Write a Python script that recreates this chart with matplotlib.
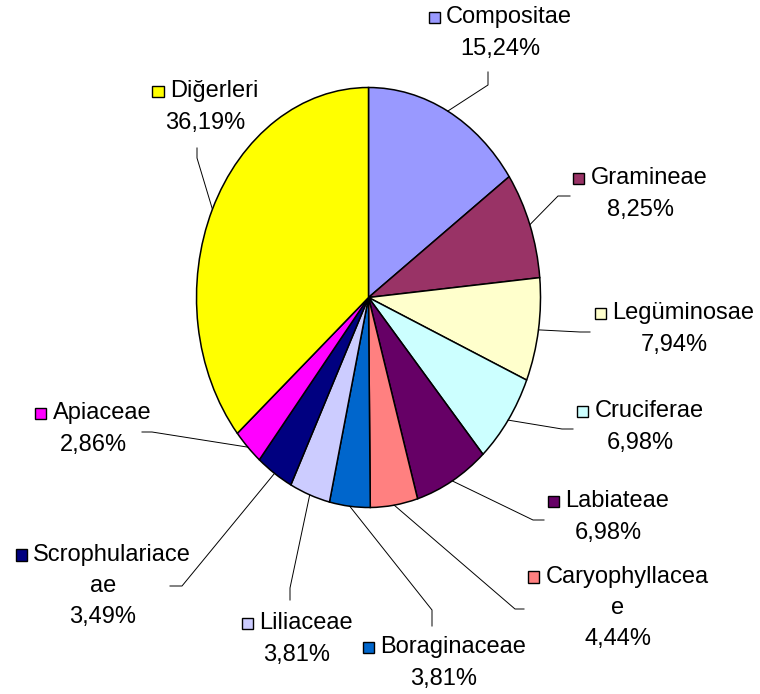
import matplotlib
matplotlib.use("Agg")
import matplotlib.pyplot as plt
import numpy as np
from matplotlib.patches import Rectangle
from matplotlib.offsetbox import TextArea, DrawingArea, HPacker, VPacker, AnnotationBbox

plt.rcParams['font.family'] = ['Liberation Sans', 'DejaVu Sans']

families = ['Compositae', 'Gramineae', 'Legüminosae', 'Cruciferae', 'Labiateae',
            'Caryophyllacea\ne', 'Boraginaceae', 'Liliaceae', 'Scrophulariace\nae',
            'Apiaceae', 'Diğerleri']
shares = [15.24, 8.25, 7.94, 6.98, 6.98, 4.44, 3.81, 3.81, 3.49, 2.86, 36.19]
colors = ['#9999FF', '#993366', '#FFFFCC', '#CCFFFF', '#660066', '#FF8080',
          '#0066CC', '#CCCCFF', '#000080', '#FF00FF', '#FFFF00']

# label block centres, leader elbows and leader ends (pixels, from top-left)
label_pos = [(500, 33), (640, 194), (674, 329), (640, 427), (608, 517), (618, 608),
             (444, 663), (297, 639), (103, 586), (93, 429), (205, 107)]
elbows = [(488, 85), (558, 196), (580, 332), (562, 429), (533, 520), (515, 609),
          (432, 610), (290, 588), (182, 586), (152, 432), (197, 158)]
ends = [(488, 72), (570, 196), (590, 332), (573, 429), (544, 520), (524, 609),
        (432, 626), (290, 600), (170, 586), (142, 432), (197, 148)]

W, H = 760, 694
fig = plt.figure(figsize=(W / 100, H / 100), dpi=100)

# the pie is stretched into an ellipse like the excel original
cx, cy, rx, ry = 368.5, 297.5, 172, 210
pax = fig.add_axes([(cx - rx) / W, (H - cy - ry) / H, 2 * rx / W, 2 * ry / H])
wedges, _ = pax.pie(shares, colors=colors, startangle=90, counterclock=False,
                    radius=1, wedgeprops=dict(edgecolor='black', linewidth=1.1))
pax.set_aspect('auto')
pax.set_xlim(-1, 1)
pax.set_ylim(-1, 1)
pax.axis('off')

ov = fig.add_axes([0, 0, 1, 1])
ov.set_xlim(0, W)
ov.set_ylim(H, 0)
ov.axis('off')

for i, w in enumerate(wedges):
    mid = np.deg2rad((w.theta1 + w.theta2) / 2)
    disp = pax.transData.transform((np.cos(mid), np.sin(mid)))
    sx, sy = ov.transData.inverted().transform(disp)
    ov.plot([sx, elbows[i][0], ends[i][0]], [sy, elbows[i][1], ends[i][1]],
            color='black', linewidth=0.7)

    lines = families[i].split('\n')
    key = DrawingArea(9, 9.5)
    key.add_artist(Rectangle((0.5, 0.5), 8, 8.5, facecolor=colors[i],
                             edgecolor='black', linewidth=1.0))
    tp = dict(fontsize=17, color='black')
    rows = [HPacker(children=[key, TextArea(lines[0], textprops=tp)],
                    align='center', pad=0, sep=4)]
    for extra in lines[1:]:
        rows.append(TextArea(extra, textprops=tp))
    pct = f"{shares[i]:.2f}%".replace('.', ',')
    rows.append(TextArea(pct, textprops=tp))
    box = VPacker(children=rows, align='center', pad=0, sep=6.5)
    ab = AnnotationBbox(box, label_pos[i], xycoords='data', frameon=False,
                        box_alignment=(0.5, 0.5), pad=0)
    ov.add_artist(ab)

fig.savefig('out.png', dpi=100)
